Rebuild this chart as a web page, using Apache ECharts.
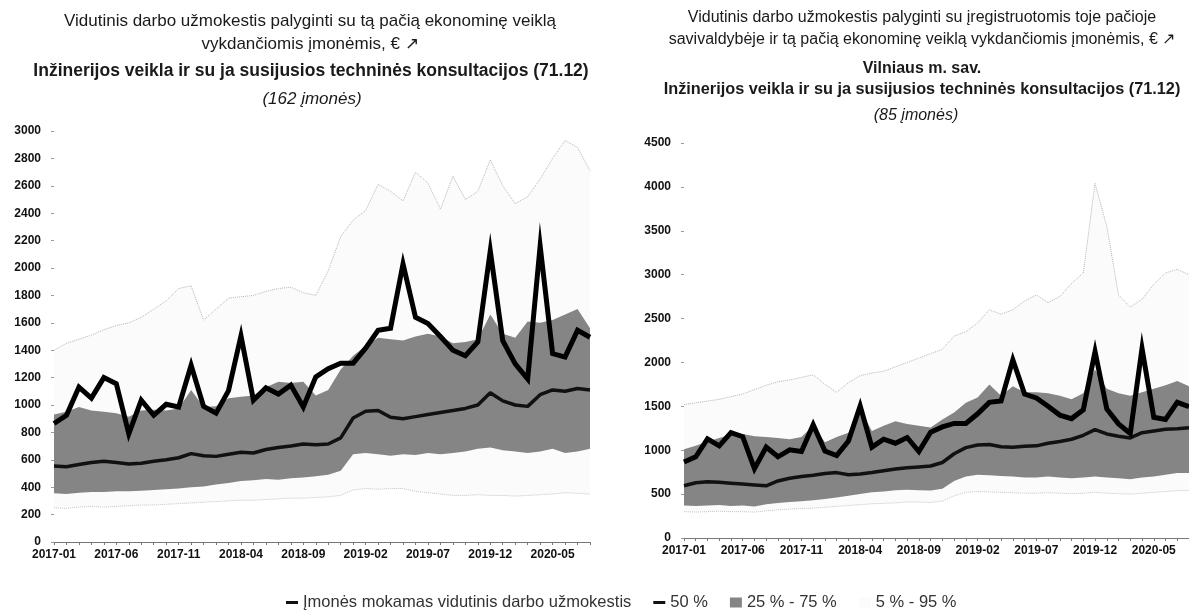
<!DOCTYPE html>
<html>
<head>
<meta charset="utf-8">
<script src="https://cdn.jsdelivr.net/npm/echarts@6/dist/echarts.min.js"></script>
<style>
  html, body { margin: 0; background: #fff; }
  #chart { width: 1189px; height: 612px; }
</style>
</head>
<body>
<div id="chart"></div>
<script>
const months = [
  '2017-01', '2017-02', '2017-03', '2017-04', '2017-05', '2017-06', '2017-07', '2017-08', '2017-09', '2017-10', '2017-11', '2017-12',
  '2018-01', '2018-02', '2018-03', '2018-04', '2018-05', '2018-06', '2018-07', '2018-08', '2018-09', '2018-10', '2018-11', '2018-12',
  '2019-01', '2019-02', '2019-03', '2019-04', '2019-05', '2019-06', '2019-07', '2019-08', '2019-09', '2019-10', '2019-11', '2019-12',
  '2020-01', '2020-02', '2020-03', '2020-04', '2020-05', '2020-06', '2020-07', '2020-08'
]

// company's own average wage (same company in both panels)
const companyWage = [865, 925, 1130, 1050, 1200, 1155, 790, 1035, 925, 1005, 985, 1290, 990, 940, 1105, 1505, 1035, 1125, 1080, 1145, 985, 1205, 1265, 1305, 1305, 1415, 1545, 1560, 2030, 1640, 1595, 1500, 1400, 1360, 1460, 2125, 1470, 1300, 1190, 2160, 1375, 1350, 1545, 1495]

// all companies with the same activity (left panel)
const allP5 = [250, 245, 255, 260, 255, 260, 265, 270, 270, 275, 280, 285, 290, 295, 300, 305, 305, 310, 315, 320, 320, 325, 330, 340, 380, 390, 385, 390, 390, 370, 360, 350, 340, 340, 345, 340, 340, 335, 340, 345, 350, 360, 355, 350]
const allP25 = [355, 350, 360, 365, 365, 370, 370, 375, 380, 385, 390, 400, 405, 420, 430, 445, 450, 460, 455, 465, 470, 480, 490, 520, 640, 650, 640, 630, 640, 635, 650, 640, 650, 660, 680, 690, 670, 660, 650, 660, 680, 650, 660, 680]
const allP50 = [555, 550, 565, 580, 590, 580, 570, 575, 590, 600, 615, 645, 630, 625, 640, 655, 650, 675, 690, 700, 715, 710, 715, 760, 905, 955, 960, 910, 900, 915, 930, 945, 960, 975, 1000, 1090, 1030, 1000, 990, 1075, 1110, 1100, 1120, 1110]
const allP75 = [930, 950, 985, 960, 950, 940, 915, 960, 965, 960, 975, 1110, 985, 990, 1050, 1060, 1070, 1130, 1170, 1160, 1170, 1070, 1110, 1260, 1360, 1430, 1490, 1480, 1470, 1500, 1520, 1500, 1450, 1460, 1480, 1660, 1520, 1490, 1610, 1600, 1620, 1660, 1700, 1560]
const allP95 = [1400, 1450, 1480, 1510, 1550, 1580, 1600, 1640, 1700, 1760, 1850, 1870, 1620, 1700, 1780, 1790, 1800, 1830, 1850, 1860, 1820, 1800, 1980, 2230, 2350, 2420, 2610, 2560, 2490, 2700, 2620, 2430, 2670, 2500, 2560, 2790, 2600, 2470, 2520, 2650, 2800, 2930, 2880, 2710]

// Vilnius companies with the same activity (right panel)
const vilP5 = [300, 295, 300, 305, 300, 300, 295, 310, 320, 330, 335, 340, 350, 360, 370, 380, 390, 395, 400, 410, 410, 405, 420, 480, 520, 530, 525, 520, 515, 510, 510, 515, 510, 505, 510, 520, 510, 505, 500, 510, 520, 530, 540, 540]
const vilP25 = [370, 365, 370, 375, 365, 370, 360, 385, 400, 410, 420, 430, 445, 460, 480, 500, 520, 530, 545, 550, 545, 540, 560, 650, 700, 720, 715, 705, 700, 690, 690, 700, 690, 680, 690, 700, 690, 680, 670, 690, 700, 720, 740, 740]
const vilP50 = [595, 630, 640, 635, 625, 615, 605, 595, 650, 680, 700, 715, 735, 745, 720, 730, 745, 765, 785, 800, 810, 820, 860, 960, 1030, 1060, 1065, 1040, 1035, 1045, 1050, 1080, 1100, 1125, 1170, 1235, 1185, 1160, 1140, 1200, 1220, 1240, 1245, 1255]
const vilP75 = [1010, 1050, 1100, 1140, 1180, 1185, 1160, 1150, 1140, 1125, 1150, 1280, 1090, 1150, 1200, 1470, 1220, 1280, 1330, 1300, 1280, 1260, 1350, 1430, 1540, 1600, 1750, 1620, 1730, 1660, 1660, 1650, 1620, 1580, 1650, 1920, 1700, 1650, 1620, 1660, 1700, 1740, 1790, 1730]
const vilP95 = [1520, 1540, 1560, 1580, 1610, 1640, 1690, 1740, 1780, 1800, 1830, 1860, 1750, 1660, 1770, 1850, 1880, 1900, 1950, 2000, 2050, 2100, 2150, 2300, 2350, 2450, 2600, 2550, 2600, 2700, 2770, 2680, 2750, 2900, 3020, 4040, 3550, 2770, 2630, 2720, 2890, 3020, 3060, 3000]

const companyName = 'Įmonės mokamas vidutinis darbo užmokestis'
const font = '"Liberation Sans", Arial, sans-serif'
const bandColor = '#858585'
const outerColor = '#fbfbfb'

const diff = (top, bottom) => top.map((v, i) => v - bottom[i])

const panelSeries = (gi, p5, p25, p50, p75, p95) => {
  const common = {
    type: 'line',
    xAxisIndex: gi,
    yAxisIndex: gi,
    symbol: 'none',
    silent: true,
    animation: false
  }
  return [
    {
      ...common,
      name: 'p5-' + gi,
      stack: 'outer' + gi,
      data: p5,
      lineStyle: { color: '#c4c4c4', width: 1, type: 'dotted' },
      z: 1
    },
    {
      ...common,
      name: '5 % - 95 %',
      stack: 'outer' + gi,
      data: diff(p95, p5),
      color: outerColor,
      lineStyle: { color: '#b4b4b4', width: 1, type: 'dotted' },
      areaStyle: { color: outerColor, opacity: 1 },
      z: 0.5
    },
    {
      ...common,
      name: 'p25-' + gi,
      stack: 'inner' + gi,
      data: p25,
      lineStyle: { opacity: 0 },
      z: 2
    },
    {
      ...common,
      name: '25 % - 75 %',
      stack: 'inner' + gi,
      data: diff(p75, p25),
      color: bandColor,
      lineStyle: { opacity: 0 },
      areaStyle: { color: bandColor, opacity: 1 },
      z: 2
    },
    {
      ...common,
      name: '50 %',
      data: p50,
      color: '#111',
      lineStyle: { color: '#111', width: 3.5 },
      z: 3
    },
    {
      ...common,
      name: companyName,
      data: companyWage,
      color: '#000',
      lineStyle: { color: '#000', width: 5, join: 'miter' },
      z: 4
    }
  ]
}

const xAxisFor = (gi) => ({
  gridIndex: gi,
  type: 'category',
  data: months,
  boundaryGap: false,
  axisLine: { lineStyle: { color: '#777', width: 1 } },
  axisTick: { show: true, interval: 0, length: 3, lineStyle: { color: '#777' } },
  axisLabel: { interval: 4, fontSize: 12, fontWeight: 'bold', color: '#111', fontFamily: font, margin: 7 },
  splitLine: { show: false }
})

const yAxisFor = (gi, max, interval) => ({
  gridIndex: gi,
  type: 'value',
  min: 0,
  max: max,
  interval: interval,
  axisLine: { show: false },
  axisTick: { show: true, length: 3, lineStyle: { color: '#999' } },
  axisLabel: {
    fontSize: 12,
    fontWeight: 'bold',
    color: '#111',
    fontFamily: font,
    margin: 13,
    formatter: (v) => String(v)
  },
  splitLine: { show: false }
})

const titleText = (x, y, text, size, weight, style) => ({
  type: 'text',
  x: x,
  y: y,
  silent: true,
  style: {
    text: text,
    fill: '#1a1a1a',
    font: `${style || 'normal'} ${weight || 'normal'} ${size}px ${font}`,
    textAlign: 'center',
    textVerticalAlign: 'middle'
  }
})

const lineIcon = 'path://M0,0L0.01,0ZM0,10L0.01,10ZM0,3.5L12,3.5L12,6.5L0,6.5Z'

const chart = echarts.init(document.getElementById('chart'))
chart.setOption({
  animation: false,
  grid: [
    { left: 54, top: 131, width: 536, height: 411, outerBoundsMode: 'none' },
    { left: 684, top: 143, width: 505, height: 395, outerBoundsMode: 'none' }
  ],
  xAxis: [xAxisFor(0), xAxisFor(1)],
  yAxis: [yAxisFor(0, 3000, 200), yAxisFor(1, 4500, 500)],
  legend: {
    left: 281,
    top: 589,
    selectedMode: false,
    itemWidth: 12,
    itemHeight: 10,
    itemGap: 22,
    textStyle: { fontSize: 16.5, color: '#333', fontFamily: font },
    data: [
      { name: companyName, icon: lineIcon, itemStyle: { color: '#111' } },
      { name: '50 %', icon: lineIcon, itemStyle: { color: '#111' } },
      { name: '25 % - 75 %', icon: 'rect', itemStyle: { color: bandColor } },
      { name: '5 % - 95 %', icon: 'rect', itemStyle: { color: outerColor } }
    ]
  },
  graphic: [
    titleText(310, 21, 'Vidutinis darbo užmokestis palyginti su tą pačią ekonominę veiklą', 17),
    titleText(310, 44, 'vykdančiomis įmonėmis, € \u2197', 17),
    titleText(311, 71, 'Inžinerijos veikla ir su ja susijusios techninės konsultacijos (71.12)', 17.5, 'bold'),
    titleText(312, 99, '(162 įmonės)', 17, 'normal', 'italic'),
    titleText(922, 18, 'Vidutinis darbo užmokestis palyginti su įregistruotomis toje pačioje', 16),
    titleText(922, 40, 'savivaldybėje ir tą pačią ekonominę veiklą vykdančiomis įmonėmis, € \u2197', 16),
    titleText(922, 69, 'Vilniaus m. sav.', 16, 'bold'),
    titleText(922, 90, 'Inžinerijos veikla ir su ja susijusios techninės konsultacijos (71.12)', 16.3, 'bold'),
    titleText(916, 116, '(85 įmonės)', 16, 'normal', 'italic')
  ],
  series: [
    ...panelSeries(0, allP5, allP25, allP50, allP75, allP95),
    ...panelSeries(1, vilP5, vilP25, vilP50, vilP75, vilP95)
  ]
})
</script>
</body>
</html>
